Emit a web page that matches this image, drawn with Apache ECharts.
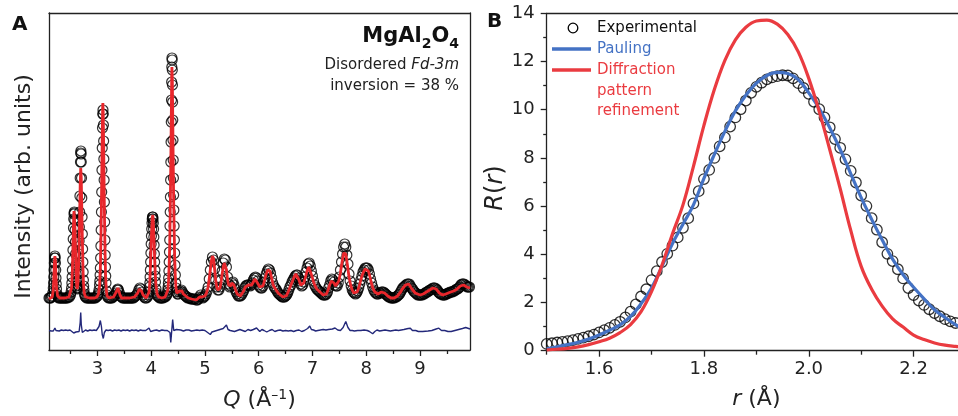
<!DOCTYPE html>
<html><head><meta charset="utf-8">
<script src="https://cdn.jsdelivr.net/npm/echarts@6/dist/echarts.min.js"></script>
<style>html,body{margin:0;padding:0;background:#fff}#c{width:958px;height:416px}</style>
</head><body><div id="c"></div>
<script>
// ---------- Panel A data (Q in 1/Å, intensity in arbitrary units) ----------
const qTicks = [3,4,5,6,7,8,9];
const qMinorTicks = [2.5,3.5,4.5,5.5,6.5,7.5,8.5,9.5];
const obsA = [[2.10,52],[2.115,52],[2.13,52],[2.145,53],[2.16,54],[2.17,57],[2.18,62],[2.185,67],[2.19,73],[2.195,80],[2.20,87],[2.205,92],[2.21,94],[2.215,92],[2.22,87],[2.225,80],[2.23,72],[2.235,66],[2.24,61],[2.25,56],[2.26,54],[2.27,53],
[2.28,52],[2.30,52],[2.32,52],[2.34,52],[2.36,52],[2.38,52],[2.40,52],[2.42,52],[2.44,52],[2.46,53],[2.48,53],
[2.50,55],[2.51,58],[2.52,62],[2.525,67],[2.53,73],[2.535,80],[2.54,90],[2.545,100],[2.55,111],[2.555,122],[2.56,131],[2.565,136],[2.57,138],[2.575,137],[2.58,130],[2.585,120],[2.59,108],[2.595,96],[2.60,85],[2.605,76],[2.61,69],[2.615,64],[2.62,62],[2.625,61],[2.63,62],[2.635,65],[2.64,69],[2.645,76],[2.65,85],[2.655,96],[2.66,109],[2.665,123],[2.67,138],[2.675,154],[2.68,172],[2.685,188],[2.69,197],[2.693,199],[2.697,196],[2.70,188],[2.705,172],[2.71,152],[2.715,133],[2.72,116],[2.725,101],[2.73,88],[2.735,78],[2.74,70],[2.745,64],[2.75,60],[2.76,56],[2.77,54],
[2.78,53],[2.80,52],[2.82,52],[2.84,52],[2.86,52],[2.88,52],[2.90,52],[2.92,52],[2.94,52],[2.96,52],[2.98,53],[3.00,54],
[3.01,55],[3.02,57],[3.03,60],[3.04,65],[3.045,69],[3.05,75],[3.055,82],[3.06,92],[3.065,104],[3.07,120],[3.075,138],[3.08,158],[3.085,180],[3.09,202],[3.095,222],[3.10,236],[3.104,240],[3.108,236],[3.112,225],[3.116,209],[3.12,191],[3.125,170],[3.13,148],[3.135,128],[3.14,110],[3.145,95],[3.15,83],[3.155,74],[3.16,67],[3.17,59],[3.18,55],[3.19,53],
[3.21,52],[3.23,52],[3.25,52],[3.27,52],[3.29,53],[3.31,54],[3.33,55],[3.35,57],[3.37,60],[3.38,61],[3.39,60],[3.41,57],[3.43,54],[3.45,53],[3.47,52],[3.49,52],[3.51,52],[3.53,52],[3.55,52],[3.57,52],[3.59,52],[3.61,52],[3.63,52],[3.65,52],[3.67,52],[3.69,53],[3.71,54],[3.73,55],[3.75,57],[3.77,60],[3.79,62],[3.81,61],[3.83,58],[3.85,55],[3.87,53],[3.89,52],[3.91,52],[3.93,53],
[3.95,55],[3.96,58],[3.97,63],[3.975,67],[3.98,73],[3.985,80],[3.99,88],[3.995,97],[4.00,106],[4.005,114],[4.01,121],[4.015,127],[4.02,131],[4.025,133],[4.03,133],[4.035,131],[4.04,127],[4.045,121],[4.05,113],[4.055,105],[4.06,96],[4.065,88],[4.07,80],[4.075,74],[4.08,68],[4.09,61],[4.10,57],[4.11,55],[4.12,54],
[4.14,53],[4.16,52],[4.18,52],[4.20,52],[4.22,52],[4.24,53],[4.26,53],[4.28,54],
[4.29,55],[4.30,57],[4.31,60],[4.315,63],[4.32,67],[4.325,72],[4.33,79],[4.335,88],[4.34,98],[4.345,110],[4.35,124],[4.354,138],[4.358,153],[4.362,170],[4.366,188],[4.37,208],[4.374,228],[4.378,250],[4.381,268],[4.384,283],[4.387,292],[4.39,290],[4.393,280],[4.396,265],[4.399,248],[4.402,230],[4.406,210],[4.41,190],[4.414,172],[4.418,155],[4.422,140],[4.427,124],[4.432,110],[4.437,97],[4.443,85],[4.45,75],[4.457,67],[4.465,62],[4.475,58],[4.49,56],
[4.50,56],[4.52,58],[4.54,59],[4.56,60],[4.58,58],[4.60,56],[4.62,55],[4.64,54],[4.66,53],[4.68,52],[4.70,52],[4.72,52],[4.74,51],[4.76,51],[4.78,51],[4.80,51],[4.82,51],[4.84,50],[4.86,50],[4.88,51],[4.90,53],[4.92,55],[4.94,53],[4.96,52],[4.98,53],[5.00,54],[5.02,56],[5.04,59],[5.06,63],[5.08,71],[5.10,80],[5.12,88],[5.14,93],[5.16,90],[5.18,81],[5.20,70],[5.22,63],[5.24,60],[5.26,60],[5.28,63],[5.30,70],[5.32,79],[5.34,87],[5.36,91],[5.38,90],[5.40,83],[5.42,73],[5.44,66],[5.46,63],[5.48,64],[5.50,67],[5.52,68],[5.54,65],[5.56,61],[5.58,58],[5.60,56],[5.62,54],[5.64,54],[5.66,54],[5.68,55],[5.70,57],[5.72,59],[5.74,62],[5.76,64],[5.78,65],[5.80,65],[5.82,65],[5.84,64],[5.86,65],[5.88,67],[5.90,70],[5.92,72],[5.94,73],[5.96,72],[5.98,69],[6.00,65],[6.02,63],[6.04,62],[6.06,62],[6.08,64],[6.10,68],[6.12,72],[6.14,76],[6.16,79],[6.18,81],[6.20,80],[6.22,77],[6.24,72],[6.26,67],[6.28,64],[6.30,62],[6.32,61],[6.34,59],[6.36,57],[6.38,56],[6.40,55],[6.42,54],[6.44,53],[6.46,53],[6.48,53],[6.50,54],[6.52,55],[6.54,57],[6.56,60],[6.58,63],[6.60,65],[6.62,68],[6.64,70],[6.66,72],[6.68,74],[6.70,75],[6.72,75],[6.74,72],[6.76,69],[6.78,66],[6.80,64],[6.82,65],[6.84,68],[6.86,73],[6.88,78],[6.90,82],[6.92,86],[6.94,87],[6.96,84],[6.98,79],[7.00,74],[7.02,69],[7.04,65],[7.06,63],[7.08,61],[7.10,60],[7.12,59],[7.14,58],[7.16,57],[7.18,56],[7.20,55],[7.22,55],[7.24,55],[7.26,56],[7.28,58],[7.30,62],[7.32,65],[7.34,69],[7.36,71],[7.38,70],[7.40,68],[7.42,65],[7.44,64],[7.46,64],[7.48,67],[7.50,73],[7.52,80],[7.54,88],[7.56,96],[7.58,103],[7.60,106],[7.62,103],[7.64,95],[7.66,86],[7.68,76],[7.70,69],[7.72,64],[7.74,60],[7.76,58],[7.78,57],[7.80,56],[7.82,57],[7.84,59],[7.86,62],[7.88,66],[7.90,70],[7.92,74],[7.94,78],[7.96,80],[7.98,82],[8.00,82],[8.02,82],[8.04,80],[8.06,76],[8.08,71],[8.10,67],[8.12,63],[8.14,60],[8.16,58],[8.18,57],[8.20,56],[8.22,56],[8.24,57],[8.26,57],[8.28,58],[8.30,58],[8.32,58],[8.34,57],[8.36,56],[8.38,55],[8.40,54],[8.42,53],[8.44,53],[8.46,52],[8.48,52],[8.50,52],[8.52,52],[8.54,53],[8.56,53],[8.58,54],[8.60,55],[8.62,56],[8.64,58],[8.66,60],[8.68,62],[8.70,63],[8.72,64],[8.74,65],[8.76,66],[8.78,66],[8.80,66],[8.82,64],[8.84,62],[8.86,61],[8.88,59],[8.90,58],[8.92,57],[8.94,56],[8.96,55],[8.98,55],[9.00,55],[9.02,55],[9.04,55],[9.06,56],[9.08,56],[9.10,57],[9.12,58],[9.14,58],[9.16,59],[9.18,60],[9.20,60],[9.22,61],[9.24,62],[9.26,62],[9.28,62],[9.30,61],[9.32,60],[9.34,58],[9.36,57],[9.38,56],[9.40,56],[9.42,55],[9.44,55],[9.46,55],[9.48,56],[9.50,56],[9.52,57],[9.54,57],[9.56,58],[9.58,58],[9.60,58],[9.62,59],[9.64,59],[9.66,60],[9.68,61],[9.70,61],[9.72,62],[9.74,63],[9.76,65],[9.78,66],[9.80,66],[9.82,66],[9.84,65],[9.86,64],[9.88,63],[9.90,63],[9.92,63]];
const calcA = [[2.10,51],[2.16,53],[2.18,60],[2.19,72],[2.20,86],[2.21,94],[2.22,88],[2.23,74],[2.24,62],[2.26,54],[2.30,52],[2.40,52],[2.47,53],[2.50,55],[2.52,62],[2.535,80],[2.545,102],[2.555,125],[2.565,139],[2.575,138],[2.585,120],[2.595,95],[2.605,75],[2.615,64],[2.625,61],[2.64,68],[2.65,84],[2.66,108],[2.67,135],[2.68,165],[2.69,182],[2.70,172],[2.71,140],[2.72,112],[2.73,86],[2.74,68],[2.755,57],[2.78,53],[2.85,52],[2.95,52],[2.99,53],[3.02,56],[3.04,64],[3.055,82],[3.065,108],[3.075,145],[3.085,190],[3.092,222],[3.098,244],[3.102,247],[3.108,238],[3.116,208],[3.124,170],[3.132,133],[3.142,100],[3.152,75],[3.165,60],[3.18,54],[3.22,52],[3.30,53],[3.33,55],[3.36,59],[3.38,62],[3.40,59],[3.42,55],[3.45,52],[3.60,52],[3.69,53],[3.72,54],[3.75,57],[3.78,61],[3.80,63],[3.82,59],[3.85,55],[3.88,53],[3.91,52],[3.94,54],[3.96,58],[3.975,68],[3.99,88],[4.00,106],[4.01,121],[4.02,132],[4.03,135],[4.04,129],[4.05,115],[4.06,98],[4.075,78],[4.09,64],[4.11,56],[4.14,53],[4.20,52],[4.26,53],[4.29,55],[4.31,60],[4.325,70],[4.335,85],[4.345,105],[4.352,128],[4.358,152],[4.363,176],[4.368,200],[4.373,226],[4.378,252],[4.382,272],[4.386,283],[4.39,282],[4.394,270],[4.398,250],[4.403,225],[4.408,198],[4.414,170],[4.42,145],[4.428,118],[4.437,94],[4.448,75],[4.46,63],[4.475,57],[4.49,56],[4.51,57],[4.53,59],[4.55,60],[4.57,59],[4.60,56],[4.63,54],[4.69,52],[4.75,51],[4.84,50],[4.87,50],[4.90,53],[4.92,55],[4.94,53],[4.97,52],[5.00,54],[5.03,57],[5.06,63],[5.08,71],[5.10,80],[5.12,89],[5.14,94],[5.16,91],[5.18,81],[5.20,70],[5.22,63],[5.24,60],[5.26,60],[5.28,62],[5.30,68],[5.32,76],[5.34,83],[5.36,87],[5.38,86],[5.40,80],[5.42,71],[5.44,65],[5.46,63],[5.48,64],[5.50,67],[5.52,68],[5.54,65],[5.57,60],[5.60,56],[5.63,54],[5.66,54],[5.69,56],[5.72,59],[5.75,63],[5.78,65],[5.81,65],[5.84,64],[5.87,65],[5.90,68],[5.93,71],[5.96,70],[5.99,66],[6.02,63],[6.05,62],[6.08,64],[6.11,70],[6.14,76],[6.17,80],[6.19,81],[6.21,79],[6.24,72],[6.27,65],[6.30,62],[6.33,60],[6.36,57],[6.39,55],[6.45,53],[6.48,53],[6.51,54],[6.54,57],[6.57,61],[6.60,65],[6.63,69],[6.66,73],[6.69,76],[6.72,75],[6.75,70],[6.78,65],[6.81,63],[6.84,67],[6.87,73],[6.90,79],[6.93,83],[6.96,81],[6.99,74],[7.02,68],[7.05,64],[7.08,61],[7.11,60],[7.14,58],[7.17,57],[7.20,55],[7.23,55],[7.26,56],[7.29,60],[7.32,65],[7.35,69],[7.37,70],[7.40,67],[7.43,64],[7.46,64],[7.49,69],[7.52,77],[7.55,88],[7.58,97],[7.60,99],[7.62,96],[7.65,85],[7.68,73],[7.71,65],[7.74,60],[7.77,57],[7.80,56],[7.83,58],[7.86,62],[7.89,68],[7.92,74],[7.95,78],[7.98,81],[8.01,81],[8.04,79],[8.07,73],[8.10,66],[8.13,61],[8.16,58],[8.19,56],[8.22,56],[8.25,57],[8.28,58],[8.31,58],[8.34,57],[8.37,55],[8.40,54],[8.46,52],[8.52,52],[8.55,53],[8.58,54],[8.61,56],[8.64,58],[8.67,61],[8.70,63],[8.73,65],[8.76,66],[8.79,66],[8.82,64],[8.85,61],[8.88,59],[8.91,57],[8.94,56],[9.00,55],[9.03,55],[9.06,56],[9.09,57],[9.12,58],[9.15,59],[9.18,60],[9.21,61],[9.24,62],[9.27,62],[9.30,61],[9.33,59],[9.36,57],[9.39,56],[9.42,55],[9.45,55],[9.48,56],[9.51,57],[9.57,58],[9.63,59],[9.66,60],[9.69,61],[9.72,62],[9.75,64],[9.78,65],[9.81,65],[9.84,64],[9.87,63],[9.93,62]];
// difference (obs - calc), drawn below the pattern
const diffA = [[2.10,0],[2.12,0.5],[2.14,-0.5],[2.16,0.5],[2.18,-0.5],[2.21,2.5],[2.23,0],[2.26,0.5],[2.29,-0.5],[2.33,0.5],[2.37,0],[2.41,0.5],[2.45,0],[2.49,0.5],[2.52,-1],[2.56,-2.5],[2.58,-0.5],[2.60,-1.5],[2.63,-2],[2.66,-1],[2.68,8],[2.69,18],[2.70,6],[2.72,-2],[2.75,0],[2.78,0.5],[2.82,-0.5],[2.86,0.5],[2.90,0],[2.94,0.5],[2.98,0],[3.00,0.5],[3.03,4],[3.055,10],[3.075,4],[3.09,-4],[3.11,-8],[3.13,-2],[3.16,0.5],[3.20,0],[3.24,0.5],[3.28,-0.5],[3.32,0.5],[3.36,0],[3.40,0.5],[3.44,-0.5],[3.48,0.5],[3.52,0],[3.56,0.5],[3.60,-0.5],[3.64,0.5],[3.68,0],[3.72,0.5],[3.76,-0.5],[3.80,0.5],[3.84,0],[3.90,0],[3.96,2.5],[3.99,-1],[4.02,-3],[4.05,0],[4.10,0.5],[4.15,-0.5],[4.20,0.5],[4.25,0],[4.30,0],[4.33,2],[4.35,-2],[4.365,-12],[4.38,-2],[4.40,11],[4.42,0],[4.44,-2],[4.47,1],[4.50,0],[4.55,0.5],[4.60,-0.5],[4.65,0.5],[4.70,0.5],[4.75,-0.5],[4.80,0],[4.85,0.5],[4.90,0],[4.95,0.5],[5.00,0],[5.05,-2],[5.10,-4],[5.13,-1.5],[5.16,0],[5.22,0],[5.28,1],[5.34,2],[5.40,5.5],[5.43,1],[5.47,0],[5.50,1],[5.55,-1],[5.60,0],[5.65,1],[5.70,0],[5.75,-1],[5.80,1],[5.85,0],[5.90,1],[5.96,2.5],[5.99,0.5],[6.02,-1],[6.06,1],[6.10,0],[6.15,-1.5],[6.20,0],[6.25,1],[6.30,-1],[6.35,0],[6.40,0.5],[6.45,-0.5],[6.50,0],[6.55,-0.5],[6.60,0],[6.65,-1],[6.70,0],[6.75,0.5],[6.80,-1],[6.85,0],[6.91,2],[6.95,4.5],[6.98,1],[7.02,0.5],[7.06,-0.5],[7.10,0],[7.15,0.5],[7.20,1],[7.25,0.5],[7.30,1],[7.37,1.5],[7.42,2.5],[7.47,0.5],[7.52,0],[7.57,3],[7.62,9],[7.66,3],[7.70,0],[7.74,0],[7.78,-0.5],[7.84,0],[7.90,0],[7.96,0.5],[8.02,0],[8.06,-1],[8.12,-3.3],[8.16,-1],[8.20,0.5],[8.25,-0.5],[8.30,0],[8.35,0.5],[8.40,0],[8.45,-0.5],[8.50,0],[8.55,0.5],[8.60,0],[8.65,0.5],[8.70,1],[8.78,2],[8.82,2.3],[8.86,0],[8.92,0],[8.97,-1],[9.05,-1],[9.15,-0.5],[9.22,0],[9.30,1.5],[9.35,2.3],[9.40,0],[9.46,0],[9.52,-1],[9.58,-1],[9.65,0],[9.72,1],[9.79,2],[9.85,3],[9.93,1.5]];

// ---------- Panel B data (r in Å, R(r)) ----------
const rTicks = [1.6,1.8,2.0,2.2];
const rMinorTicks = [1.5,1.7,1.9,2.1,2.3];
const experimentalB = [[1.50,0.28],[1.51,0.31],[1.52,0.34],[1.53,0.37],[1.54,0.40],[1.55,0.44],[1.56,0.49],[1.57,0.54],[1.58,0.60],[1.59,0.67],[1.60,0.76],[1.61,0.85],[1.62,0.95],[1.63,1.07],[1.64,1.20],[1.65,1.38],[1.66,1.62],[1.67,1.92],[1.68,2.25],[1.69,2.55],[1.70,2.93],[1.71,3.30],[1.72,3.68],[1.73,4.02],[1.74,4.36],[1.75,4.70],[1.76,5.10],[1.77,5.50],[1.78,6.11],[1.79,6.62],[1.80,7.12],[1.81,7.50],[1.82,8.00],[1.83,8.48],[1.84,8.85],[1.85,9.30],[1.86,9.68],[1.87,10.02],[1.88,10.38],[1.89,10.70],[1.90,10.95],[1.91,11.12],[1.92,11.26],[1.93,11.34],[1.94,11.39],[1.95,11.43],[1.96,11.42],[1.97,11.30],[1.98,11.10],[1.99,10.90],[2.00,10.66],[2.01,10.33],[2.02,10.02],[2.03,9.68],[2.04,9.27],[2.05,8.78],[2.06,8.42],[2.07,7.94],[2.08,7.46],[2.09,6.98],[2.10,6.44],[2.11,6.00],[2.12,5.50],[2.13,5.02],[2.14,4.50],[2.15,4.02],[2.16,3.72],[2.17,3.38],[2.18,3.00],[2.19,2.60],[2.20,2.31],[2.21,2.08],[2.22,1.90],[2.23,1.72],[2.24,1.56],[2.25,1.43],[2.26,1.31],[2.27,1.22],[2.28,1.15]];
const paulingB = [[1.50,0.08],[1.52,0.16],[1.54,0.25],[1.56,0.35],[1.58,0.48],[1.60,0.65],[1.62,0.85],[1.64,1.07],[1.66,1.42],[1.68,1.95],[1.70,2.60],[1.72,3.50],[1.74,4.45],[1.76,5.25],[1.78,6.05],[1.80,7.15],[1.82,8.15],[1.84,9.10],[1.86,9.95],[1.88,10.60],[1.90,11.10],[1.92,11.42],[1.94,11.55],[1.96,11.50],[1.98,11.25],[2.00,10.70],[2.02,10.05],[2.04,9.25],[2.06,8.35],[2.08,7.35],[2.10,6.35],[2.12,5.45],[2.14,4.60],[2.16,3.80],[2.18,3.15],[2.20,2.63],[2.22,2.15],[2.24,1.70],[2.26,1.38],[2.28,1.08],[2.30,0.85]];
const refinementB = [[1.50,0.03],[1.52,0.06],[1.54,0.10],[1.56,0.16],[1.58,0.25],[1.60,0.37],[1.62,0.52],[1.64,0.75],[1.66,1.08],[1.68,1.62],[1.70,2.45],[1.72,3.55],[1.74,4.85],[1.76,6.05],[1.78,7.65],[1.80,9.35],[1.82,10.85],[1.84,12.05],[1.86,12.90],[1.88,13.42],[1.90,13.68],[1.92,13.72],[1.94,13.55],[1.96,13.12],[1.98,12.40],[2.00,11.30],[2.02,9.92],[2.04,8.35],[2.06,6.72],[2.08,5.00],[2.10,3.50],[2.12,2.55],[2.14,1.85],[2.16,1.32],[2.18,0.98],[2.20,0.65],[2.22,0.46],[2.24,0.32],[2.26,0.23],[2.28,0.18],[2.30,0.14]];

// ---------- chart ----------
const FONT = 'DejaVu Sans, Liberation Sans, Arial, sans-serif';
const AX = '#222';
const diffOffset = 19.5;
const chart = echarts.init(document.getElementById('c'), null, {renderer: 'canvas'});
const axLine = {show: true, lineStyle: {color: AX, width: 1.3}};
const noTick = {show: false};
const noLabel = {show: false};
function borderAxis(grid, pos, min, max) {
  return {type: 'value', gridIndex: grid, position: pos, min: min, max: max,
    axisLine: axLine, axisTick: noTick, axisLabel: noLabel, splitLine: {show: false}};
}
chart.setOption({
  animation: false,
  backgroundColor: '#fff',
  textStyle: {fontFamily: FONT},
  grid: [
    {left: 49, right: 488, top: 13, bottom: 66, containLabel: false, outerBoundsMode: 'none'},
    {left: 546.7, right: -8, top: 13.3, bottom: 65.3, containLabel: false, outerBoundsMode: 'none'}
  ],
  xAxis: [
    {type: 'value', gridIndex: 0, position: 'bottom', min: 2.1, max: 9.93,
      axisLine: axLine,
      axisTick: {show: true, customValues: qTicks, length: 6, lineStyle: {color: AX, width: 1.3}},
      axisLabel: {customValues: qTicks, fontSize: 18, color: AX, margin: 10, fontFamily: FONT},
      splitLine: {show: false},
      name: '{i|Q} (Å{s|–1})', nameLocation: 'middle', nameGap: 38,
      nameTextStyle: {fontSize: 22, color: AX, fontFamily: FONT,
        rich: {i: {fontStyle: 'italic', fontSize: 22, fontFamily: FONT, color: AX},
               s: {fontSize: 14, fontFamily: FONT, color: AX, padding: [0, 0, 10, 0]}}}},
    {type: 'value', gridIndex: 0, position: 'bottom', min: 2.1, max: 9.93,
      axisLine: {show: false},
      axisTick: {show: true, customValues: qMinorTicks, length: 4, lineStyle: {color: AX, width: 1.3}},
      axisLabel: noLabel, splitLine: {show: false}},
    borderAxis(0, 'top', 2.1, 9.93),
    {type: 'value', gridIndex: 1, position: 'bottom', min: 1.5, max: 2.3,
      axisLine: axLine,
      axisTick: {show: true, customValues: rTicks, length: 6, lineStyle: {color: AX, width: 1.3}},
      axisLabel: {customValues: rTicks, fontSize: 18, color: AX, margin: 10, fontFamily: FONT,
        formatter: v => Number(v).toFixed(1)},
      splitLine: {show: false},
      name: '{i|r} (Å)', nameLocation: 'middle', nameGap: 38,
      nameTextStyle: {fontSize: 22, color: AX, fontFamily: FONT,
        rich: {i: {fontStyle: 'italic', fontSize: 22, fontFamily: FONT, color: AX}}}},
    {type: 'value', gridIndex: 1, position: 'bottom', min: 1.5, max: 2.3,
      axisLine: {show: false},
      axisTick: {show: true, customValues: rMinorTicks, length: 4, lineStyle: {color: AX, width: 1.3}},
      axisLabel: noLabel, splitLine: {show: false}},
    borderAxis(1, 'top', 1.5, 2.3)
  ],
  yAxis: [
    {type: 'value', gridIndex: 0, position: 'left', min: 0, max: 337,
      axisLine: axLine, axisTick: noTick, axisLabel: noLabel, splitLine: {show: false},
      name: 'Intensity (arb. units)', nameLocation: 'middle', nameGap: 14,
      nameTextStyle: {fontSize: 22, color: AX, fontFamily: FONT, padding: [0, 10, 0, 0]}},
    borderAxis(0, 'right', 0, 337),
    {type: 'value', gridIndex: 1, position: 'left', min: 0, max: 14, interval: 2,
      axisLine: axLine,
      axisTick: {show: true, length: 6, lineStyle: {color: AX, width: 1.3}},
      minorTick: {show: true, splitNumber: 2, length: 3.5, lineStyle: {color: AX, width: 1.3}},
      axisLabel: {fontSize: 18, color: AX, margin: 12, fontFamily: FONT},
      splitLine: {show: false},
      name: '{i|R}({i|r})', nameLocation: 'middle', nameGap: 36,
      nameTextStyle: {fontSize: 24, color: AX, fontFamily: FONT, padding: [0, 12, 0, 0],
        rich: {i: {fontStyle: 'italic', fontSize: 24, fontFamily: FONT, color: AX}}}}
  ],
  series: [
    {name: 'Observed', type: 'scatter', xAxisIndex: 0, yAxisIndex: 0, data: obsA,
      symbol: 'circle', symbolSize: 10, silent: true, large: false,
      itemStyle: {color: 'rgba(255,255,255,0)', borderColor: '#000', borderWidth: 1.2}},
    {name: 'Calculated', type: 'line', xAxisIndex: 0, yAxisIndex: 0, data: calcA,
      showSymbol: false, symbol: 'none', silent: true,
      lineStyle: {color: '#E8262B', width: 2.8}},
    {name: 'Difference', type: 'line', xAxisIndex: 0, yAxisIndex: 0,
      data: diffA.map(d => [d[0], d[1] + diffOffset]),
      showSymbol: false, symbol: 'none', silent: true,
      lineStyle: {color: '#23287A', width: 1.4}},
    {name: 'Experimental', type: 'scatter', xAxisIndex: 3, yAxisIndex: 2, data: experimentalB,
      symbol: 'circle', symbolSize: 10.5, silent: true,
      itemStyle: {color: 'rgba(255,255,255,0)', borderColor: '#000', borderWidth: 1.3}},
    {name: 'Pauling', type: 'line', xAxisIndex: 3, yAxisIndex: 2, data: paulingB,
      smooth: 0.4, showSymbol: false, symbol: 'none', silent: true,
      lineStyle: {color: '#4472C4', width: 3.2}},
    {name: 'Diffraction pattern refinement', type: 'line', xAxisIndex: 3, yAxisIndex: 2, data: refinementB,
      smooth: 0.4, showSymbol: false, symbol: 'none', silent: true,
      lineStyle: {color: '#EA3B40', width: 3.2}}
  ],
  graphic: [
    {type: 'text', left: 12, top: 15, style: {text: 'A', font: 'bold 20px ' + FONT, fill: '#111'}},
    {type: 'text', left: 487, top: 12, style: {text: 'B', font: 'bold 20px ' + FONT, fill: '#111'}},
    {type: 'text', x: 459, y: 37, style: {
      text: '{b|MgAl}{s|2}{b|O}{s|4}', align: 'right', verticalAlign: 'middle',
      rich: {b: {fontSize: 21, fontWeight: 'bold', fontFamily: FONT, fill: '#111'},
             s: {fontSize: 14, fontWeight: 'bold', fontFamily: FONT, fill: '#111', padding: [14, 0, 0, 0]}}}},
    {type: 'text', x: 459, y: 65, style: {
      text: 'Disordered {i|Fd-3m}', align: 'right', verticalAlign: 'middle',
      font: '15px ' + FONT, fill: '#222',
      rich: {i: {fontSize: 15, fontStyle: 'italic', fontFamily: FONT, fill: '#222'}}}},
    {type: 'text', x: 459, y: 86, style: {
      text: 'inversion = 38 %', align: 'right', verticalAlign: 'middle',
      font: '15px ' + FONT, fill: '#222'}},
    // legend of panel B
    {type: 'circle', shape: {cx: 573, cy: 28, r: 4.8}, style: {fill: 'none', stroke: '#000', lineWidth: 1.3}},
    {type: 'text', x: 597, y: 28, style: {text: 'Experimental', verticalAlign: 'middle', font: '15px ' + FONT, fill: '#111'}},
    {type: 'line', shape: {x1: 552, y1: 49, x2: 591, y2: 49}, style: {stroke: '#4472C4', lineWidth: 3.5}},
    {type: 'text', x: 597, y: 49, style: {text: 'Pauling', verticalAlign: 'middle', font: '15px ' + FONT, fill: '#4472C4'}},
    {type: 'line', shape: {x1: 552, y1: 70, x2: 591, y2: 70}, style: {stroke: '#EA3B40', lineWidth: 3.5}},
    {type: 'text', x: 597, y: 60, style: {text: 'Diffraction\npattern\nrefinement', verticalAlign: 'top', lineHeight: 20.5, font: '15px ' + FONT, fill: '#EA3B40'}}
  ]
});
</script></body></html>
